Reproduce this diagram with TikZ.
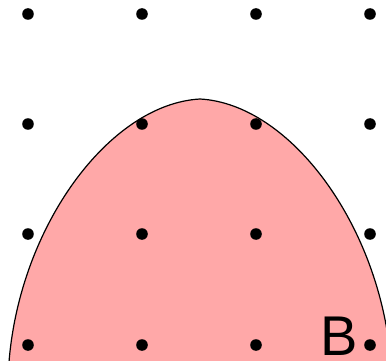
\documentclass[tikz,border=0pt]{standalone}
\usepackage{fontspec}
\setmainfont{Liberation Sans}
\definecolor{regionpink}{RGB}{255,168,168}
\tikzset{
  griddot/.style={fill=black},
  regionline/.style={draw=black, line width=1.2pt, fill=regionpink},
  lbl/.style={font=\fontsize{56}{56}\selectfont, inner sep=0pt}
}
\begin{document}
\begin{tikzpicture}[x=1pt,y=-1pt]
\useasboundingbox (0,0) rectangle (386,361);
\begin{scope}
\clip (0,0) rectangle (386,361);
\path[regionline] (9,362) .. controls (20,225) and (110,104) .. (200,99)
  .. controls (290,104) and (380,225) .. (391,362) -- (391,370) -- (9,370) -- cycle;
\end{scope}
\foreach \x in {28,142,256,370}
  \foreach \y in {14,124,234,345}
    \fill[griddot] (\x,\y) circle (5.8);
\node[lbl, anchor=base] (B) at (339,355) {B};
\end{tikzpicture}
\end{document}
